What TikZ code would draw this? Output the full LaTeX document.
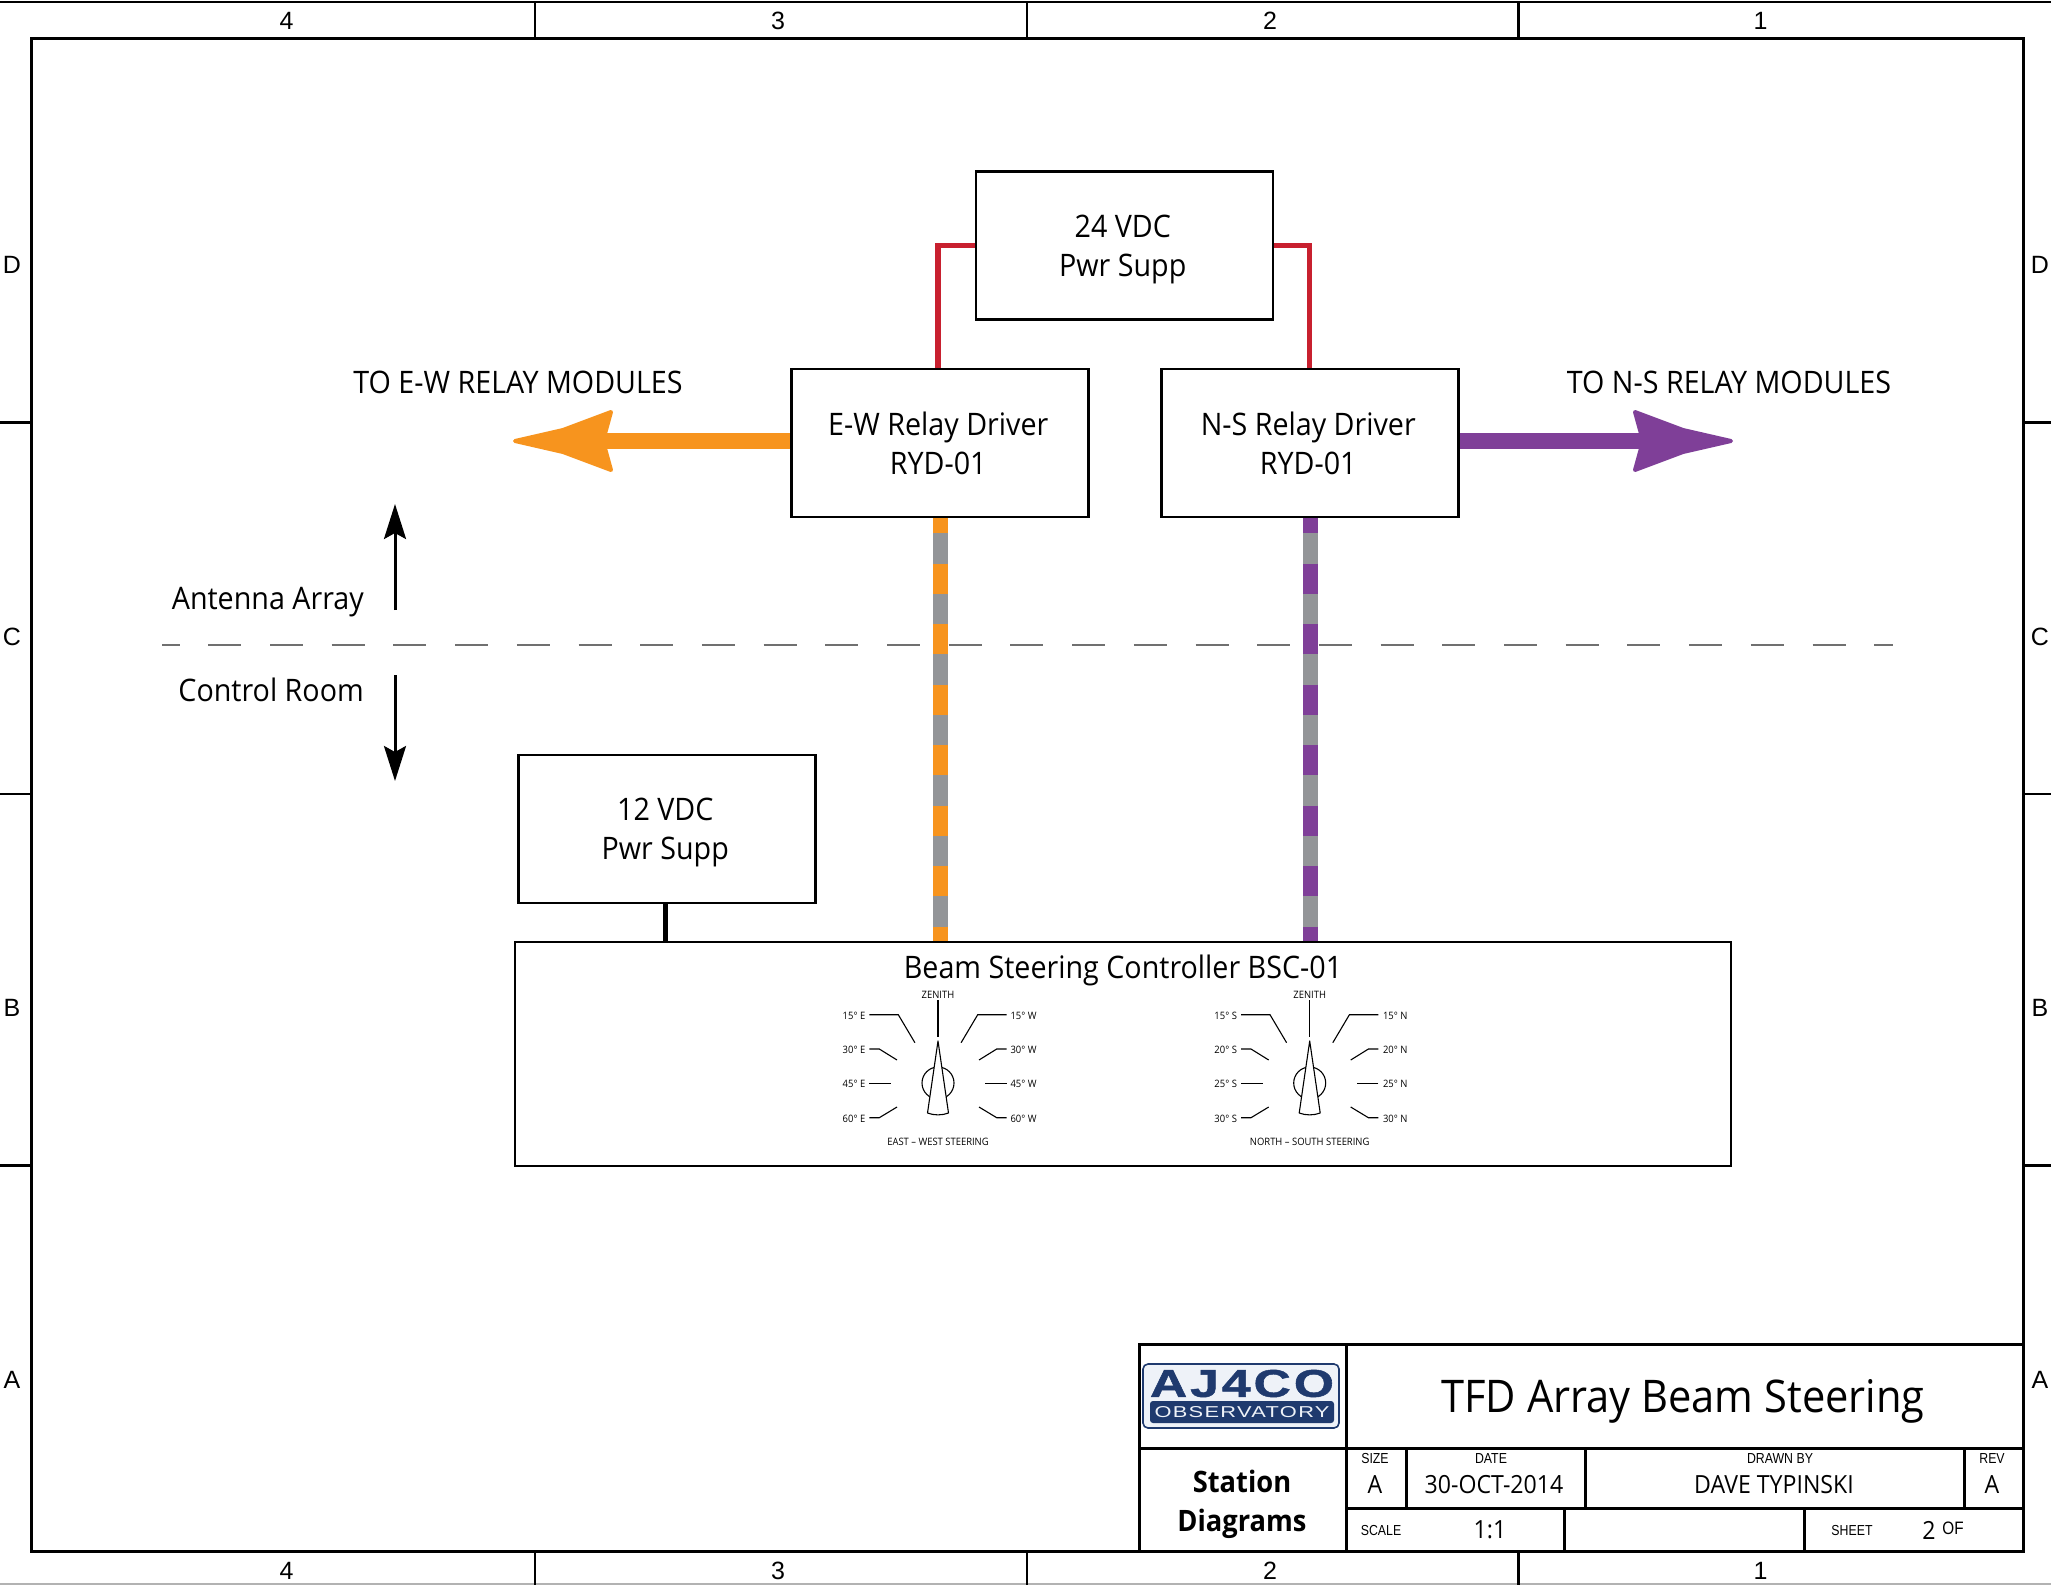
\documentclass[tikz,border=0pt]{standalone}
\usepackage{fontspec}
\usepackage{graphicx}
\usetikzlibrary{arrows.meta}
\setmainfont{Open Sans}[FakeStretch=0.925]
\newfontfamily\arialf{Liberation Sans}
\newfontfamily\narrowf{Liberation Sans}[FakeStretch=0.85]
\newfontfamily\logof{Liberation Sans}[LetterSpace=6,BoldFont={Liberation Sans Bold},BoldFeatures={FakeBold=1.2}]
\definecolor{orangec}{HTML}{F7941E}
\definecolor{purplec}{HTML}{7F3F98}
\definecolor{grayc}{HTML}{939598}
\definecolor{redc}{HTML}{C8202F}
\definecolor{navyc}{HTML}{1F3A6E}
\definecolor{logobg}{HTML}{EEF2F8}
\definecolor{dashc}{HTML}{707070}
\newcommand\shl{\hspace*{3.5pt}}
\tikzset{
 boxn/.style={draw=black,line width=2.8pt,fill=white,minimum width=297pt,minimum height=148pt,inner sep=0pt,align=center,font=\fontsize{31}{39}\selectfont},
 lab/.style={inner sep=0pt,font=\fontsize{31}{38}\selectfont},
 frameline/.style={draw=black,line width=3pt},
 tick/.style={draw=black,line width=2.6pt},
 edge/.style={inner sep=0pt,font=\arialf\fontsize{25}{25}\selectfont},
 small/.style={inner sep=0pt,font=\narrowf\fontsize{14.5}{15}\selectfont},
 tb/.style={inner sep=0pt,font=\fontsize{25}{25}\selectfont},
 redw/.style={draw=redc,line width=5.4pt},
 strip/.style={line width=15pt},
 fat/.style={line width=16pt},
 blackarrow/.style={draw=black,line width=3pt,-{Stealth[length=35pt,width=22pt,inset=6pt]}},
 kn/.style={draw=black,line width=1.1pt},
 kt/.style={inner sep=0pt,font=\fontsize{10.2}{11}\selectfont}
}
% knob: prefix, centre x, left labels, right labels
\newcommand\knobdial[9]{%
 \begin{scope}[shift={(#2,0)}]
  \draw[kn] (0,1000) -- (0,1037);
  \foreach \s in {-1,1}{
   \draw[kn] (\s*68.6,1014.7) -- (\s*39.7,1014.7) -- (\s*23.1,1042.7);
   \draw[kn] (\s*68.6,1049) -- (\s*58.7,1049) -- (\s*41,1060);
   \draw[kn] (\s*68.6,1083.3) -- (\s*47,1083.3);
   \draw[kn] (\s*68.6,1117.7) -- (\s*58.7,1117.7) -- (\s*41,1107);
  }
  \draw[kn] (0,1083) circle (16);
  \draw[kn,fill=white,line join=round] (0,1041) -- (10.5,1113) .. controls (4,1115.5) and (-4,1115.5) .. (-10.5,1113) -- cycle;
  \node[kt] (#1z) at (0,994.7) {ZENITH};
  \node[kt] (#1a) at (-84,1016) {#3};
  \node[kt] (#1b) at (-84,1050) {#4};
  \node[kt] (#1c) at (-84,1084.3) {#5};
  \node[kt] (#1d) at (-84,1118.7) {#6};
  \node[kt] (#1e) at (85.5,1016) {#7};
  \node[kt] (#1f) at (85.5,1050) {#8};
  \node[kt] (#1g) at (85.5,1084.3) {#9};
 \end{scope}}
\begin{document}
\begin{tikzpicture}[x=1pt,y=-1pt]
\useasboundingbox (0,0) rectangle (2051,1585);
\fill[white] (0,0) rectangle (2051,1585);
% sheet border
\draw[tick] (0,2) -- (2051,2);
\draw[draw=black!30,line width=1.5pt] (0,1584) -- (2051,1584);
\draw[frameline] (31,38) rectangle (2023.5,1551);
\foreach \x in {535,1027,1518.6}{
 \draw[tick] (\x,2) -- (\x,38);
 \draw[tick] (\x,1551) -- (\x,1585);}
\foreach \y in {422.5,794,1165.5}{
 \draw[tick] (0,\y) -- (31,\y);
 \draw[tick] (2023.5,\y) -- (2051,\y);}
\node[edge] (t4) at (286.5,21) {4};
\node[edge] (t3) at (778,21) {3};
\node[edge] (t2) at (1270,21) {2};
\node[edge] (t1) at (1760.5,21) {1};
\node[edge] (b4) at (286.5,1571) {4};
\node[edge] (b3) at (778,1571) {3};
\node[edge] (b2) at (1270,1571) {2};
\node[edge] (b1) at (1760.5,1571) {1};
\node[edge] (ld) at (12,265) {D};
\node[edge] (lc) at (12,637) {C};
\node[edge] (lb) at (12,1008) {B};
\node[edge] (la) at (12,1380) {A};
\node[edge] (rd) at (2040,265) {D};
\node[edge] (rc) at (2040,637) {C};
\node[edge] (rb) at (2040,1008) {B};
\node[edge] (ra) at (2040,1380) {A};
% boxes
\node[boxn] (ps24) at (1124.5,245.5) {24 VDC\shl\\\smash{Pwr Supp}\shl};
\node[boxn] (ew) at (940,443) {E-W Relay Driver\shl\\RYD-01\shl};
\node[boxn] (ns) at (1310,443) {N-S Relay Driver\shl\\RYD-01\shl};
\node[boxn] (ps12) at (667,829) {12 VDC\shl\\\smash{Pwr Supp}\shl};
\node[draw=black,line width=2.8pt,fill=white,minimum width=1216pt,minimum height=224pt,inner sep=0pt] (bsc) at (1123,1054) {};
\node[lab] (bsct) at (1123,970) {Beam Steering Controller BSC-01};
% dashed boundary
\coordinate (dl) at (162,645);
\coordinate (dr) at (1893,645);
\draw[draw=dashc,line width=2.7pt,dash pattern=on 33pt off 28.7pt,dash phase=15.4pt] (dl) -- (dr);
% connectors
\coordinate (ewin) at ([xshift=-2pt]ew.north);
\coordinate (nsin) at ([xshift=-0.5pt]ns.north);
\draw[redw] (ps24.west) -| (ewin);
\draw[redw] (ps24.east) -| (nsin);
\coordinate (ps12out) at ([xshift=-1.5pt]ps12.south);
\draw[draw=black,line width=5pt] (ps12out) -- (ps12out |- bsc.north);
\draw[strip,draw=grayc] (ew.south) -- (ew.south |- bsc.north);
\draw[strip,draw=orangec,dash pattern=on 30.25pt off 30.25pt,dash phase=15.25pt] (ew.south) -- (ew.south |- bsc.north);
\draw[strip,draw=grayc] (ns.south) -- (ns.south |- bsc.north);
\draw[strip,draw=purplec,dash pattern=on 30.25pt off 30.25pt,dash phase=15.25pt] (ns.south) -- (ns.south |- bsc.north);
% fat arrows
\coordinate (ewtip) at (603,441);
\coordinate (nstip) at (1643,441);
\draw[fat,draw=orangec] (ew.west |- ewtip) -- (ewtip);
\draw[fat,draw=purplec] (ns.east |- nstip) -- (nstip);
\filldraw[draw=orangec,fill=orangec,line width=4pt,line join=round] (515,441) -- (563,430) -- (611,412) -- (603,441) -- (611,470) -- (563,452) -- cycle;
\filldraw[draw=purplec,fill=purplec,line width=4pt,line join=round] (1731,441) -- (1683,430) -- (1635,412) -- (1643,441) -- (1635,470) -- (1683,452) -- cycle;
\node[lab] (tew) at (518,382) {TO E-W RELAY MODULES};
\node[lab] (tns) at (1729,382) {TO N-S RELAY MODULES};
% direction arrows
\coordinate (ua) at (395,610);
\coordinate (ub) at (395,504);
\coordinate (da) at (395,675);
\coordinate (db) at (395,781);
\draw[blackarrow] (ua) -- (ub);
\draw[blackarrow] (da) -- (db);
\node[lab,anchor=east] (ant) at (364,602) {Antenna Array};
\node[lab,anchor=east] (ctl) at (364,690) {Control Room};
% dials
\knobdial{w}{938}{15° E}{30° E}{45° E}{60° E}{15° W}{30° W}{45° W}
\node[kt] (wh) at (1023.5,1118.7) {60° W};
\node[kt] (wcap) at (938,1141.5) {EAST – WEST STEERING};
\knobdial{n}{1309.7}{15° S}{20° S}{25° S}{30° S}{15° N}{20° N}{25° N}
\node[kt] (nh) at (1395.2,1118.7) {30° N};
\node[kt] (ncap) at (1309.7,1141.5) {NORTH – SOUTH STEERING};
% title block
\draw[frameline,fill=white] (1139.5,1344.5) rectangle (2023.5,1551);
\draw[frameline] (1346,1344.5) -- (1346,1551);
\draw[frameline] (1139.5,1448) -- (2023.5,1448);
\draw[frameline] (1346,1508) -- (2023.5,1508);
\draw[frameline] (1406,1448) -- (1406,1508);
\draw[frameline] (1585,1448) -- (1585,1508);
\draw[frameline] (1964,1448) -- (1964,1508);
\draw[frameline] (1564,1508) -- (1564,1551);
\draw[frameline] (1804,1508) -- (1804,1551);
% logo
\node[draw=navyc,fill=logobg,line width=1.6pt,rounded corners=5pt,minimum width=196pt,minimum height=64pt,inner sep=0pt] (logo) at (1241,1396) {};
\node[fill=navyc,rounded corners=3pt,minimum width=184pt,minimum height=22pt,inner sep=0pt,text=logobg] (logob) at (1242,1412) {\resizebox{175pt}{11pt}{\logof OBSERVATORY}};
\node[inner sep=0pt,text=navyc] (logot) at (1242,1383.5) {\resizebox{184pt}{27pt}{\logof\bfseries AJ4CO}};
\node[inner sep=0pt,font=\fontsize{45}{46}\selectfont] (title) at (1683,1401) {TFD Array Beam Steering};
\node[inner sep=0pt,align=center,font=\bfseries\fontsize{29.5}{39}\selectfont] (sd) at (1242,1504) {Station\\Diagrams};
\node[small] (s1) at (1375,1458) {SIZE};
\node[tb] (s2) at (1375,1485) {A};
\node[small] (d1) at (1491,1458) {DATE};
\node[tb] (d2) at (1494,1485) {30-OCT-2014};
\node[small] (n1) at (1780,1458) {DRAWN BY};
\node[tb] (n2) at (1774,1485) {DAVE TYPINSKI};
\node[small] (r1) at (1992,1458) {REV};
\node[tb] (r2) at (1992,1485) {A};
\node[small] (c1) at (1381,1530) {SCALE};
\node[tb] (c2) at (1490,1530) {1:1};
\node[small] (h1) at (1852,1530) {SHEET};
\node[tb] (h2) at (1929,1530) {2};
\node[small,font=\narrowf\fontsize{18}{18}\selectfont] (h3) at (1953,1528) {OF};
\end{tikzpicture}
\end{document}
